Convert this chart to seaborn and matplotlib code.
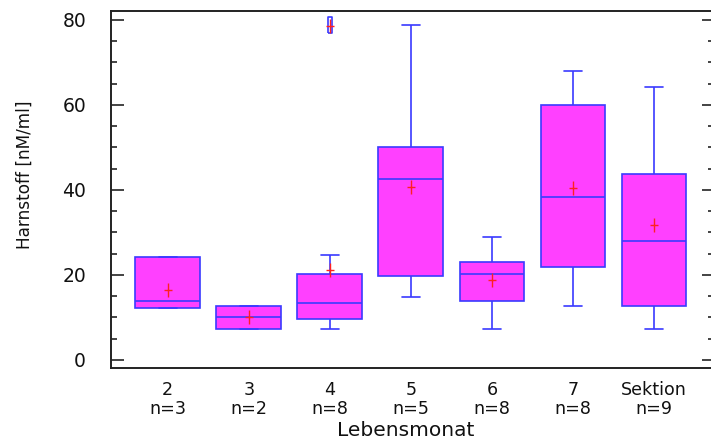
import numpy as np
import pandas as pd
import matplotlib
matplotlib.use("Agg")
import matplotlib.pyplot as plt
from matplotlib.path import Path
import seaborn as sns

# ---- data ----
months = ["2", "3", "4", "5", "6", "7", "Sektion"]
counts = [3, 2, 8, 5, 8, 8, 9]
whisker_low = [12.2, 7.3, 7.3, 14.9, 7.3, 12.7, 7.3]
q1 = [12.2, 7.3, 9.6, 19.8, 13.8, 21.9, 12.6]
median = [13.9, 10.0, 13.3, 42.5, 20.3, 38.4, 27.9]
q3 = [24.2, 12.7, 20.3, 50.2, 23.1, 59.9, 43.8]
whisker_high = [24.2, 12.7, 24.6, 78.9, 29.0, 68.1, 64.2]
means = [16.5, 10.0, 21.2, 40.8, 18.7, 40.5, 31.7]
outlier_group = ["4"]
outlier_value = [78.9]
outlier_mean = [78.5]

tick_labels = [f"{m}\nn={n}" for m, n in zip(months, counts)]

# long-form values whose quartiles reproduce the five-number summaries
rows = []
for i, lab in enumerate(tick_labels):
    extra = [v for g, v in zip(outlier_group, outlier_value) if g == months[i]]
    if extra:
        vals = [whisker_low[i], q1[i], q1[i], median[i], median[i],
                q3[i], q3[i], whisker_high[i]] + extra
    else:
        vals = [whisker_low[i], q1[i], median[i], q3[i], whisker_high[i]]
    for v in vals:
        rows.append({"group": lab, "value": v})
df = pd.DataFrame(rows)

sns.set_style("white")
plt.rcParams["font.family"] = ["DejaVu Sans"]
plt.rcParams["text.color"] = "#111111"
plt.rcParams["xtick.color"] = "#111111"
plt.rcParams["ytick.color"] = "#111111"
plt.rcParams["axes.labelcolor"] = "#111111"

fig = plt.figure(figsize=(7.11, 4.46), dpi=100)
ax = fig.add_axes([111 / 711, 78 / 446, (714 - 111) / 711, 357 / 446])

fill_col = "#ff40ff"
edge_col = "#3a3aff"
mean_col = "#ff2020"

rect_marker = [(-0.3, -1), (0.3, -1), (0.3, 1), (-0.3, 1), (-0.3, -1)]
plus_marker = Path([(0, -1), (0, 1), (-0.6, 0), (0.6, 0)],
                   [Path.MOVETO, Path.LINETO, Path.MOVETO, Path.LINETO])

sns.boxplot(data=df, x="group", y="value", order=tick_labels, ax=ax,
            width=0.8, saturation=1, color=fill_col, linecolor=edge_col,
            linewidth=1.2, whis=1.5,
            flierprops=dict(marker=rect_marker, markersize=11,
                            markeredgecolor=edge_col, markerfacecolor="none",
                            markeredgewidth=1.2),
            capwidths=0.22)

sns.scatterplot(x=tick_labels, y=means, marker=plus_marker, s=90,
                color=mean_col, edgecolor=mean_col, linewidth=1.0, ax=ax,
                zorder=5)
sns.scatterplot(x=[tick_labels[months.index(g)] for g in outlier_group],
                y=outlier_mean, marker=plus_marker, s=90, color=mean_col,
                edgecolor=mean_col, linewidth=1.0, ax=ax, zorder=5)

ax.set_xlim(-0.70, 6.74)
ax.set_ylim(-1.9, 82.1)
ax.set_yticks([0, 20, 40, 60, 80])
ax.set_yticks(np.arange(5, 80, 5), minor=True)
ax.set_xticks(range(len(tick_labels)))
ax.set_xticklabels(tick_labels, fontsize=12.6, linespacing=1.05)
ax.tick_params(axis="y", which="major", direction="in", length=9, width=1.1,
               left=True, right=True, labelsize=13.5, pad=18)
ax.tick_params(axis="y", which="minor", direction="in", length=4.5, width=1.1,
               left=True, right=True)
ax.tick_params(axis="x", which="both", bottom=False, top=False, pad=6)

for side in ["left", "bottom", "top"]:
    ax.spines[side].set_color("#222222")
    ax.spines[side].set_linewidth(1.4)
ax.spines["right"].set_visible(False)

ax.set_xlabel("Lebensmonat", fontsize=14.5)
ax.xaxis.set_label_coords(0.488, -0.148)
ax.set_ylabel("Harnstoff [nM/ml]", fontsize=12.2)
ax.yaxis.set_label_coords(-0.128, 0.54)

fig.savefig("out.png", dpi=100)
